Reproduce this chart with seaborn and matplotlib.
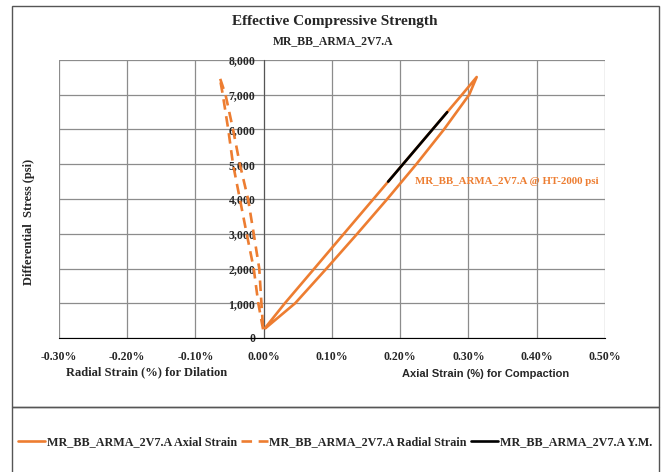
import matplotlib
matplotlib.use("Agg")
import matplotlib.pyplot as plt
import matplotlib.patches as mpatches
from matplotlib.lines import Line2D
from matplotlib.ticker import FuncFormatter
import seaborn as sns
import pandas as pd

# ---- data (strain in %, stress in psi) ----
axial_strain = [0.0024, 0.046, 0.092, 0.137, 0.181, 0.2235, 0.264, 0.301, 0.312,
                0.2904, 0.2688, 0.2472, 0.2039, 0.1823, 0.1607, 0.1174, 0.0742, 0.0309, 0.002]
axial_stress = [280, 1000, 2000, 3000, 4000, 5000, 6000, 7000, 7510,
                7000, 6500, 6000, 5000, 4500, 4000, 3000, 2000, 1000, 290]

radial_strain = [-0.001, -0.008, -0.0147, -0.025, -0.035, -0.045, -0.052, -0.060, -0.0645,
                 -0.056, -0.045, -0.035, -0.023, -0.0147, -0.0066, -0.0034, -0.001]
radial_stress = [250, 1000, 2000, 3000, 4000, 5000, 6000, 7000, 7500,
                 7000, 6000, 5000, 4000, 3000, 2000, 1000, 300]

ym_strain = [0.1823, 0.2688]
ym_stress = [4500, 6500]

x_ticks = [-0.30, -0.20, -0.10, 0.00, 0.10, 0.20, 0.30, 0.40, 0.50]
y_ticks = [0, 1000, 2000, 3000, 4000, 5000, 6000, 7000, 8000]

series_names = ["MR_BB_ARMA_2V7.A Axial Strain",
                "MR_BB_ARMA_2V7.A Radial Strain",
                "MR_BB_ARMA_2V7.A Y.M."]
title = "Effective Compressive Strength"
subtitle = "MR_BB_ARMA_2V7.A"
annotation = "MR_BB_ARMA_2V7.A @ HT-2000 psi"

ORANGE = "#ED7D31"

sns.set_style("white")
plt.rcParams["font.family"] = ["Liberation Serif", "DejaVu Serif"]
plt.rcParams["font.weight"] = "bold"

fig = plt.figure(figsize=(6.68, 4.72), dpi=100)
ax = fig.add_axes([59 / 668, 1 - 338 / 472, (605 - 59) / 668, (338 - 60) / 472])

df_ax = pd.DataFrame({"x": axial_strain, "y": axial_stress})
df_rad = pd.DataFrame({"x": radial_strain, "y": radial_stress})
df_ym = pd.DataFrame({"x": ym_strain, "y": ym_stress})

sns.lineplot(data=df_ax, x="x", y="y", sort=False, estimator=None, ax=ax,
             color=ORANGE, lw=1.9, zorder=3)
sns.lineplot(data=df_rad, x="x", y="y", sort=False, estimator=None, ax=ax,
             color=ORANGE, lw=1.9, zorder=3)
ax.lines[-1].set_dashes([4, 2.5])
sns.lineplot(data=df_ym, x="x", y="y", sort=False, estimator=None, ax=ax,
             color="black", lw=1.9, zorder=4)

ax.set_xlim(-0.30, 0.50)
ax.set_ylim(0, 8000)
ax.set_xticks(x_ticks)
ax.set_yticks(y_ticks)
ax.xaxis.set_major_formatter(FuncFormatter(lambda v, p: f"{v:.2f}%"))
ax.yaxis.set_major_formatter(FuncFormatter(lambda v, p: f"{v:,.0f}"))
ax.grid(True, color="#8c8c8c", lw=0.9)
ax.set_axisbelow(True)
for s in ["top", "right"]:
    ax.spines[s].set_visible(False)
ax.spines["left"].set_position(("data", 0))
ax.spines["left"].set_color("#555555")
ax.spines["bottom"].set_color("black")
ax.tick_params(axis="x", direction="out", length=4, width=0.8, pad=5, labelsize=8.5)
ax.tick_params(axis="y", direction="inout", length=6, width=0.8, pad=3, labelsize=8.5)
for lab in ax.get_xticklabels() + ax.get_yticklabels():
    lab.set_fontweight("bold")
ax.set_xlabel("")
ax.set_ylabel("")

ax.text(0.2212, 4490, annotation, color=ORANGE, fontsize=7.8, fontweight="bold",
        va="center", ha="left")

fig.text(335 / 668, 1 - 21 / 472, title, ha="center", va="center",
         fontsize=11, fontweight="bold")
fig.text(333 / 668, 1 - 41 / 472, subtitle, ha="center", va="center",
         fontsize=8.5, fontweight="bold")
fig.text(29 / 668, 1 - 222 / 472, "Differential  Stress (psi)", rotation=90,
         ha="center", va="center", fontsize=9, fontweight="bold")
fig.text(147 / 668, 1 - 372 / 472, "Radial Strain (%) for Dilation",
         ha="center", va="center", fontsize=9, fontweight="bold")
fig.text(486 / 668, 1 - 374 / 472, "Axial Strain (%) for Compaction",
         ha="center", va="center", fontsize=8, fontweight="bold",
         family=["Liberation Sans", "DejaVu Sans"])

# borders
fig.patches.append(mpatches.Rectangle((12 / 668, 1 - 407 / 472), (659 - 12) / 668,
                                      (407 - 6) / 472, transform=fig.transFigure,
                                      fill=False, edgecolor="#555555", lw=1.0))
fig.patches.append(mpatches.Rectangle((12 / 668, -0.01), (659 - 12) / 668,
                                      1 - 407 / 472 + 0.01, transform=fig.transFigure,
                                      fill=False, edgecolor="#555555", lw=1.0))

handles = [Line2D([], [], color=ORANGE, lw=1.9),
           Line2D([], [], color=ORANGE, lw=1.9, dashes=[4, 2.5]),
           Line2D([], [], color="black", lw=1.9)]
leg = fig.legend(handles, series_names, loc="center", ncol=3,
                 bbox_to_anchor=(335 / 668, 1 - 442 / 472), frameon=False,
                 handlelength=2.2, handletextpad=0.15, columnspacing=0.35,
                 prop={"weight": "bold", "size": 8.7})

fig.savefig("out.png", dpi=100)
